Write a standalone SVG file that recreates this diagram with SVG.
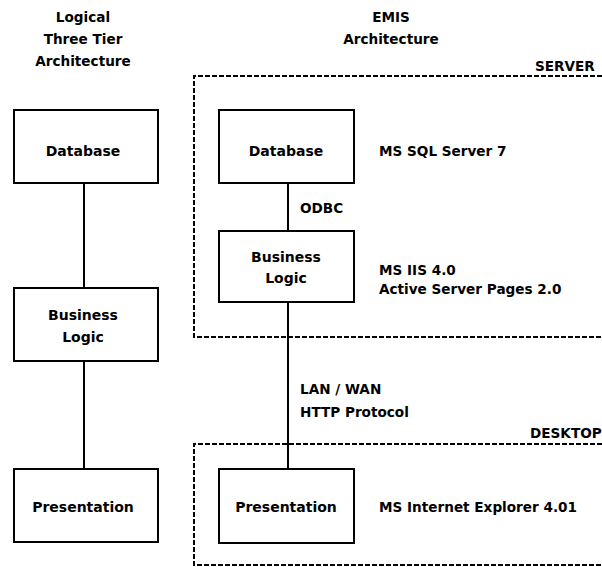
<svg xmlns="http://www.w3.org/2000/svg" width="602" height="567" viewBox="0 0 602 567">
<style>
text{font-family:"DejaVu Sans","Liberation Sans",sans-serif;font-weight:bold;font-size:13.6px;fill:#000}
.c{text-anchor:middle}
.n{font-size:14px}
.box{fill:#fff;stroke:#000;stroke-width:2}
.con{stroke:#000;stroke-width:2;fill:none}
.dash{stroke:#000;stroke-width:2;fill:none;stroke-dasharray:5 2}
</style>
<rect width="602" height="567" fill="#fff"/>
<g id="headers">
<text class="c" x="83" y="22">Logical</text>
<text class="c" x="83" y="44">Three Tier</text>
<text class="c" x="83" y="66">Architecture</text>
<text class="c" x="391" y="22">EMIS</text>
<text class="c" x="391" y="44">Architecture</text>
</g>
<g id="zones">
<path class="dash" d="M602,76 H194 V337 H602"/>
<text x="535" y="71">SERVER</text>
<path class="dash" d="M602,444 H194 V565 H602"/>
<text x="530" y="438">DESKTOP</text>
</g>
<g id="connectors">
<line class="con" x1="84" y1="183" x2="84" y2="288"/>
<line class="con" x1="84" y1="361" x2="84" y2="468"/>
<line class="con" x1="288" y1="183" x2="288" y2="231"/>
<line class="con" x1="288" y1="302" x2="288" y2="469"/>
</g>
<g id="l-database">
<rect class="box" x="14" y="110" width="144" height="73"/>
<text class="c n" x="83" y="156">Database</text>
</g>
<g id="l-business">
<rect class="box" x="14" y="288" width="144" height="73"/>
<text class="c n" x="83" y="320">Business</text>
<text class="c n" x="83" y="342">Logic</text>
</g>
<g id="l-presentation">
<rect class="box" x="14" y="469" width="144" height="73"/>
<text class="c n" x="83" y="512">Presentation</text>
</g>
<g id="r-database">
<rect class="box" x="219" y="110" width="135" height="73"/>
<text class="c n" x="286" y="156">Database</text>
<text x="379" y="156">MS SQL Server 7</text>
</g>
<g id="odbc">
<text x="300" y="213">ODBC</text>
</g>
<g id="r-business">
<rect class="box" x="219" y="231" width="135" height="71"/>
<text class="c n" x="286" y="262">Business</text>
<text class="c n" x="286" y="283">Logic</text>
<text x="379" y="275">MS IIS 4.0</text>
<text x="379" y="294">Active Server Pages 2.0</text>
</g>
<g id="network">
<text x="300" y="394">LAN / WAN</text>
<text x="300" y="417">HTTP Protocol</text>
</g>
<g id="r-presentation">
<rect class="box" x="219" y="469" width="135" height="74"/>
<text class="c n" x="286" y="512">Presentation</text>
<text x="379" y="512">MS Internet Explorer 4.01</text>
</g>
</svg>
